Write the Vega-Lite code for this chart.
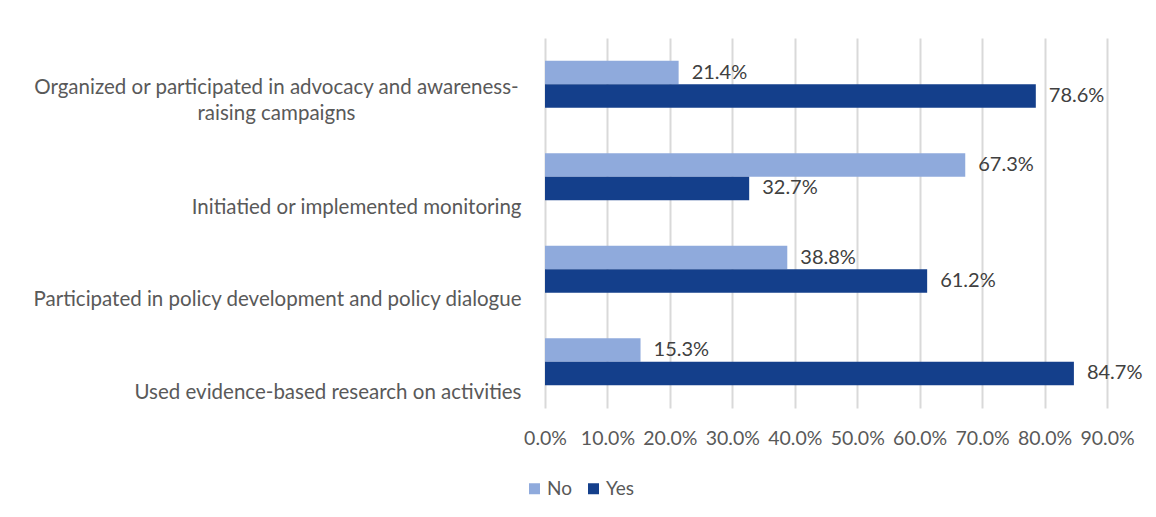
{
  "$schema": "https://vega.github.io/schema/vega-lite/v6.json",
  "autosize": "none",
  "width": 562,
  "height": 370,
  "padding": {"left": 545, "top": 38, "right": 49, "bottom": 109},
  "background": "white",
  "config": {
    "font": "Lato",
    "view": {"stroke": null},
    "axis": {"labelFont": "Lato", "labelColor": "#595959"},
    "legend": {"labelFont": "Lato"}
  },
  "data": {
    "values": [
      {"activity": "Organized or participated in advocacy and awareness-raising campaigns", "answer": "No", "value": 0.214},
      {"activity": "Organized or participated in advocacy and awareness-raising campaigns", "answer": "Yes", "value": 0.786},
      {"activity": "Initiatied or implemented monitoring", "answer": "No", "value": 0.673},
      {"activity": "Initiatied or implemented monitoring", "answer": "Yes", "value": 0.327},
      {"activity": "Participated in policy development and policy dialogue", "answer": "No", "value": 0.388},
      {"activity": "Participated in policy development and policy dialogue", "answer": "Yes", "value": 0.612},
      {"activity": "Used evidence-based research on activities", "answer": "No", "value": 0.153},
      {"activity": "Used evidence-based research on activities", "answer": "Yes", "value": 0.847}
    ]
  },
  "encoding": {
    "y": {
      "field": "activity",
      "type": "nominal",
      "sort": null,
      "scale": {"paddingInner": 0.492, "paddingOuter": 0.246},
      "axis": {
        "title": null,
        "domain": false,
        "ticks": false,
        "labelFontSize": 20.5,
        "labelLimit": 700,
        "labelLineHeight": 26,
        "labelAlign": {"condition": {"test": "indexof(datum.value, 'Organized') == 0", "value": "center"}, "value": "right"},
        "labelPadding": {"condition": {"test": "indexof(datum.value, 'Organized') == 0", "value": 269}, "value": 24},
        "labelOffset": {"condition": {"test": "indexof(datum.value, 'Organized') == 0", "value": 4}, "value": 31},
        "labelExpr": "indexof(datum.value, 'Organized') == 0 ? ['Organized or participated in advocacy and awareness-', 'raising campaigns'] : datum.value"
      }
    },
    "yOffset": {"field": "answer", "type": "nominal", "sort": ["No", "Yes"], "scale": {"paddingInner": 0, "paddingOuter": 0}},
    "x": {
      "field": "value",
      "type": "quantitative",
      "scale": {"domain": [0, 0.9], "nice": false},
      "axis": {
        "title": null,
        "format": ".1%",
        "values": [0, 0.1, 0.2, 0.3, 0.4, 0.5, 0.6, 0.7, 0.8, 0.9],
        "domain": false,
        "ticks": false,
        "grid": true,
        "gridColor": "#d9d9d9",
        "gridWidth": 2,
        "labelFontSize": 19.5,
        "labelPadding": 21,
        "labelFlush": false,
        "labelOverlap": false
      }
    }
  },
  "layer": [
    {
      "mark": {"type": "bar"},
      "encoding": {
        "color": {
          "field": "answer",
          "type": "nominal",
          "sort": ["No", "Yes"],
          "scale": {"domain": ["No", "Yes"], "range": ["#8faadc", "#143f8b"]},
          "legend": {
            "title": null,
            "orient": "none",
            "direction": "horizontal",
            "legendX": -20,
            "legendY": 441,
            "symbolType": "square",
            "symbolSize": 121,
            "symbolStrokeWidth": 0,
            "labelFontSize": 19,
            "labelColor": "#595959",
            "labelOffset": 3,
            "columnPadding": 12,
            "padding": 0
          }
        }
      }
    },
    {
      "mark": {"type": "text", "align": "left", "baseline": "middle", "dx": 13, "fontSize": 20, "color": "#404040"},
      "encoding": {
        "text": {"field": "value", "type": "quantitative", "format": ".1%"}
      }
    }
  ]
}
